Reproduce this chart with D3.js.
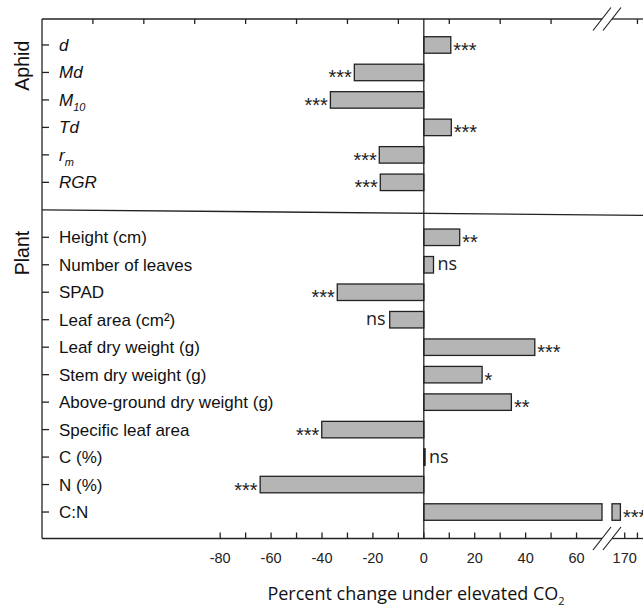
<!DOCTYPE html>
<html>
<head>
<meta charset="utf-8">
<script src="https://cdn.jsdelivr.net/npm/d3@7"></script>
<style>
  html, body { margin: 0; padding: 0; background: #fff; }
  svg { display: block; }
</style>
</head>
<body>
<div id="chart"></div>
<script>
// percent change under elevated CO2, aphid + plant traits
// x axis is broken between 70 and 165

const aphidLabels = ["d", "Md", "M", "Td", "r", "RGR"];
const aphidSubs = ["", "", "10", "", "m", ""];
const aphidValues = [10.6, -27.3, -36.7, 10.8, -17.5, -17.1];
const aphidSig = ["***", "***", "***", "***", "***", "***"];

const plantLabels = ["Height (cm)", "Number of leaves", "SPAD", "Leaf area (cm\u00B2)",
    "Leaf dry weight (g)", "Stem dry weight (g)", "Above-ground dry weight (g)",
    "Specific leaf area", "C (%)", "N (%)", "C:N"];
const plantValues = [14.1, 3.8, -34.0, -13.4, 43.6, 22.9, 34.4, -40.1, 0.5, -64.3, 168.3];
const plantSig = ["**", "ns", "***", "ns", "***", "*", "**", "***", "ns", "***", "***"];

const bottomTicks = [-80, -70, -60, -50, -40, -30, -20, -10, 0, 10, 20, 30, 40, 50, 60, 170, 175];
const bottomTickLabels = [-80, -60, -40, -20, 0, 20, 40, 60, 170];
const topTicks = [-130, -110, -90, -70, -50, -30, -10, 10, 30, 50, 175];

const W = 643, H = 606;
const axL = 42, yTop = 19, yBot = 538.5;
const breakLo = 70, breakHi = 165;

const svg = d3.select("#chart").append("svg")
    .attr("width", W).attr("height", H);

// two pieces of the x scale
let xL = d3.scaleLinear().domain([-150, breakLo]).range([axL, 602]);
let xR = d3.scaleLinear().domain([breakHi, 172]).range([612, 612 + 7 * 2.545]);
function xs(v) { return v > breakLo ? xR(v) : xL(v); }

// rows: aphid, a blank slot for the divider, plant
let rows = [];
aphidLabels.forEach((d, i) => rows.push({key: "a" + i, label: d, sub: aphidSubs[i], value: aphidValues[i], sig: aphidSig[i], italic: true}));
rows.push({key: "gap"});
plantLabels.forEach((d, i) => rows.push({key: "p" + i, label: d, sub: "", value: plantValues[i], sig: plantSig[i], italic: false}));

let y = d3.scalePoint().domain(rows.map(d => d.key)).range([17.5, 539.5]).padding(1);
let barH = 16.5;
let data = rows.filter(d => d.key != "gap");

const ink = "#222";

// bars
let bars = svg.append("g");
data.forEach(function(d) {
    let segs = [];
    if (d.value > breakLo) {
        segs.push([xL(0), xL(breakLo)]);
        segs.push([xR(breakHi), xR(d.value)]);
    } else {
        segs.push([xL(Math.min(0, d.value)), xL(Math.max(0, d.value))]);
    }
    segs.forEach(s => {
        bars.append("rect")
            .attr("x", s[0]).attr("y", y(d.key) - barH / 2)
            .attr("width", Math.max(s[1] - s[0], 0.8)).attr("height", barH)
            .attr("fill", "#b5b5b5").attr("stroke", ink).attr("stroke-width", 1.3);
    });
});

// significance marks
data.forEach(function(d) {
    let neg = d.value < 0;
    let xEnd = xs(d.value);
    let t = svg.append("text")
        .text(d.sig)
        .attr("text-anchor", neg ? "end" : "start")
        .attr("fill", ink);
    if (d.sig == "ns") {
        t.attr("x", neg ? xEnd - 4 : xEnd + 4)
            .attr("y", y(d.key) + 5.5)
            .style("font-family", "'Open Sans', sans-serif")
            .style("font-size", "18px");
    } else {
        t.attr("x", neg ? xEnd - 2.5 : xEnd + 2.5)
            .attr("y", y(d.key) + 12)
            .style("font-family", "'Liberation Sans', Arial, sans-serif")
            .style("font-size", "20px");
    }
});

// zero line
svg.append("line")
    .attr("x1", xL(0)).attr("x2", xL(0)).attr("y1", yTop).attr("y2", yBot)
    .attr("stroke", ink).attr("stroke-width", 1.3);

// frame: left axis, top axis, bottom axis
svg.append("line").attr("x1", axL).attr("x2", axL).attr("y1", yTop).attr("y2", yBot)
    .attr("stroke", ink).attr("stroke-width", 1.3);
[yTop, yBot].forEach(yy => {
    svg.append("line").attr("x1", axL).attr("x2", xL(breakLo)).attr("y1", yy).attr("y2", yy)
        .attr("stroke", ink).attr("stroke-width", 1.3);
    svg.append("line").attr("x1", xR(breakHi)).attr("x2", W).attr("y1", yy).attr("y2", yy)
        .attr("stroke", ink).attr("stroke-width", 1.3);
});

// divider between aphid and plant
svg.append("line")
    .attr("x1", axL).attr("y1", y("gap"))
    .attr("x2", W).attr("y2", y("gap") + 5.5)
    .attr("stroke", ink).attr("stroke-width", 1.3);

// ticks, pointing inward
svg.selectAll(".tb").data(bottomTicks).enter().append("line")
    .attr("x1", d => xs(d)).attr("x2", d => xs(d))
    .attr("y1", yBot).attr("y2", yBot - 6)
    .attr("stroke", ink).attr("stroke-width", 1.3);
svg.selectAll(".tt").data(topTicks).enter().append("line")
    .attr("x1", d => xs(d)).attr("x2", d => xs(d))
    .attr("y1", yTop).attr("y2", yTop + 5)
    .attr("stroke", ink).attr("stroke-width", 1.3);
svg.selectAll(".ty").data(data).enter().append("line")
    .attr("x1", axL).attr("x2", axL + 7)
    .attr("y1", d => y(d.key)).attr("y2", d => y(d.key))
    .attr("stroke", ink).attr("stroke-width", 1.3);

svg.selectAll(".tl").data(bottomTickLabels).enter().append("text")
    .text(d => d)
    .attr("x", d => xs(d)).attr("y", 562.5)
    .attr("text-anchor", "middle")
    .attr("fill", ink)
    .style("font-family", "'Liberation Sans', Arial, sans-serif")
    .style("font-size", "14.5px");

// axis break marks
[yTop, yBot].forEach(yy => {
    [xL(breakLo), xR(breakHi)].forEach(bx => {
        svg.append("line")
            .attr("x1", bx - 9).attr("y1", yy + 11.5)
            .attr("x2", bx + 9).attr("y2", yy - 11.5)
            .attr("stroke", ink).attr("stroke-width", 1.2);
    });
});

// category labels
let lab = svg.selectAll(".lab").data(data).enter().append("text")
    .attr("x", 59).attr("y", d => y(d.key) + 6)
    .attr("fill", "#111")
    .style("font-family", "'Liberation Sans', Arial, sans-serif")
    .style("font-size", "17px")
    .style("font-style", d => d.italic ? "italic" : "normal");
lab.append("tspan").text(d => d.label);
lab.filter(d => d.sub).append("tspan")
    .text(d => d.sub)
    .attr("dy", 5)
    .style("font-size", "11px");

// group labels
[["Aphid", 65.7], ["Plant", 253]].forEach(g => {
    svg.append("text")
        .text(g[0])
        .attr("transform", "translate(29," + g[1] + ") rotate(-90)")
        .attr("text-anchor", "middle")
        .attr("fill", "#111")
        .style("font-family", "'Liberation Sans', Arial, sans-serif")
        .style("font-size", "19.5px");
});

// x axis title
let title = svg.append("text")
    .attr("x", 416).attr("y", 600)
    .attr("text-anchor", "middle")
    .attr("fill", "#111")
    .style("font-family", "'Open Sans', sans-serif")
    .style("font-size", "18px");
title.append("tspan").text("Percent change under elevated CO");
title.append("tspan").text("2").attr("dy", 5).style("font-size", "11px");
</script>
</body>
</html>
